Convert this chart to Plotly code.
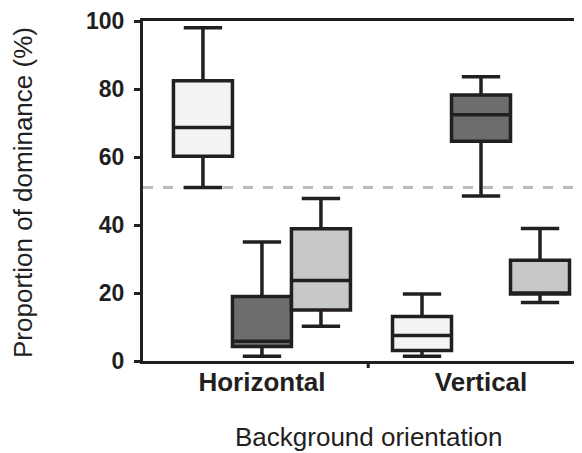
import plotly.graph_objects as go

categories = ["Horizontal", "Vertical"]
series_names = ["Light", "Dark", "Medium"]
series_colors = ["#f3f3f3", "#6c6d6f", "#c7c8ca"]

# [Horizontal, Vertical] for each statistic
light_low = [51.0, 1.4]
light_q1 = [60.2, 3.1]
light_med = [68.7, 7.5]
light_q3 = [82.4, 13.1]
light_up = [98.0, 19.7]

dark_low = [1.4, 48.5]
dark_q1 = [4.3, 64.6]
dark_med = [5.8, 72.4]
dark_q3 = [19.0, 78.2]
dark_up = [35.0, 83.6]

medium_low = [10.2, 17.2]
medium_q1 = [15.0, 19.7]
medium_med = [23.7, 20.0]
medium_q3 = [38.9, 29.6]
medium_up = [47.8, 39.0]

chance_level = 51.0
y_ticks = [0, 20, 40, 60, 80, 100]

stats = [
    (light_low, light_q1, light_med, light_q3, light_up),
    (dark_low, dark_q1, dark_med, dark_q3, dark_up),
    (medium_low, medium_q1, medium_med, medium_q3, medium_up),
]

FONT = "Liberation Sans, Arial, sans-serif"
INK = "#231f20"

fig = go.Figure()
for name, color, (lo, q1, med, q3, up) in zip(series_names, series_colors, stats):
    fig.add_trace(go.Box(
        name=name,
        x=categories,
        lowerfence=lo, q1=q1, median=med, q3=q3, upperfence=up,
        fillcolor=color,
        line=dict(color=INK, width=3.5),
        whiskerwidth=0.65,
        boxpoints=False,
        offsetgroup=name,
        hoverinfo="skip",
    ))

fig.add_shape(type="line", xref="paper", yref="y", x0=0, x1=1,
              y0=chance_level, y1=chance_level, layer="below",
              line=dict(color="#bcbdbf", width=3, dash="10px,10px"))

# category separator tick on the x axis
fig.add_shape(type="line", xref="x", yref="paper", x0=0.485, x1=0.485,
              y0=0, y1=-7, ysizemode="pixel", yanchor=0,
              line=dict(color=INK, width=3))

fig.update_layout(
    width=574, height=445,
    margin=dict(l=135, r=0, t=11, b=92),
    paper_bgcolor="white", plot_bgcolor="white",
    boxmode="group", boxgap=0.192, boxgroupgap=0,
    showlegend=False,
    font=dict(family=FONT, color=INK),
    xaxis=dict(
        type="category", range=[-0.543, 1.461],
        showline=True, linecolor=INK, linewidth=3, mirror=True,
        ticks="", showgrid=False, zeroline=False,
        tickfont=dict(size=26, family=FONT, weight="bold"),
        ticklabelstandoff=-4,
    ),
    yaxis=dict(
        range=[0, 100], tickvals=y_ticks,
        showline=True, linecolor=INK, linewidth=3, mirror=False,
        ticks="outside", ticklen=6, tickwidth=3, tickcolor=INK,
        showgrid=False, zeroline=False,
        tickfont=dict(size=23, family=FONT, weight="bold"),
        ticklabelstandoff=5,
        ticklabeloverflow="allow",
    ),
    annotations=[
        dict(text="Proportion of dominance (%)", xref="paper", yref="paper",
             x=0, y=0.5, xanchor="center", yanchor="middle", xshift=-120,
             yshift=-2, textangle=-90, showarrow=False,
             font=dict(size=26, family=FONT, color=INK)),
        dict(text="Background orientation", xref="paper", yref="paper",
             x=0.514, y=0, xanchor="center", yanchor="middle", yshift=-76,
             showarrow=False,
             font=dict(size=26, family=FONT, color=INK)),
    ],
)

fig.write_html("out.html")
